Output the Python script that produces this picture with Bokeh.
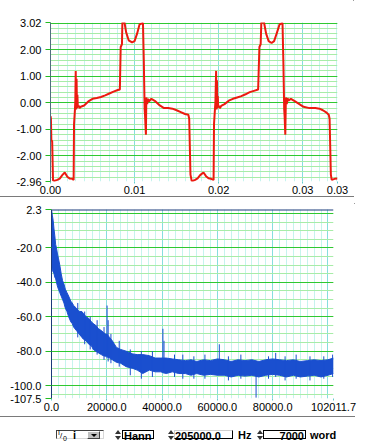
import numpy as np
from bokeh.plotting import figure
from bokeh.models import Range1d, FixedTicker, PrintfTickFormatter, Span, Div
from bokeh.layouts import column
from bokeh.embed import file_html
from bokeh.resources import INLINE

# ---------------- data ----------------
# time-domain waveform (s, value)
wave_t = [0.00000, 0.00005, 0.00010, 0.00020, 0.00030, 0.00045, 0.00080, 0.00110, 0.00140, 0.00170,
          0.00200, 0.00230, 0.00260, 0.00275, 0.00280, 0.00290, 0.00295, 0.00300, 0.00305, 0.00310,
          0.00315, 0.00320, 0.00325, 0.00335, 0.00345, 0.00360, 0.00400, 0.00450, 0.00500, 0.00550,
          0.00600, 0.00650, 0.00700, 0.00750, 0.00800, 0.00825, 0.00835, 0.00850, 0.00855, 0.00880,
          0.00900, 0.00930, 0.00970, 0.01000, 0.01030, 0.01060, 0.01100, 0.01110, 0.01120, 0.01125,
          0.01135, 0.01140, 0.01150, 0.01160, 0.01170, 0.01200, 0.01250, 0.01300, 0.01350, 0.01400,
          0.01450, 0.01500, 0.01550, 0.01600, 0.01640, 0.01650, 0.01665, 0.01680,
          0.01695, 0.01720, 0.01750, 0.01780, 0.01820, 0.01850, 0.01880, 0.01910, 0.01940, 0.01945,
          0.01955, 0.01962, 0.01970, 0.01975, 0.01980, 0.01985, 0.01990, 0.01995, 0.02005, 0.02015,
          0.02030, 0.02070, 0.02120, 0.02170, 0.02220, 0.02270, 0.02320, 0.02370, 0.02420, 0.02470,
          0.02485, 0.02500, 0.02508, 0.02540, 0.02565, 0.02595, 0.02630, 0.02660, 0.02690, 0.02725,
          0.02760, 0.02770, 0.02780, 0.02785, 0.02793, 0.02800, 0.02810, 0.02820, 0.02830, 0.02860,
          0.02910, 0.02960, 0.03010, 0.03080, 0.03150, 0.03200, 0.03240, 0.03275, 0.03310, 0.03320,
          0.03335, 0.03345, 0.03380, 0.03414]
wave_v = [-0.50, -0.60, -1.40, -1.45, -2.92, -2.94, -2.90, -2.85, -2.72, -2.62,
          -2.78, -2.85, -2.86, -2.90, -0.80, -0.30, 0.05, 1.20, -0.25, 0.90,
          -0.20, 0.30, -0.15, -0.10, -0.20, -0.15, -0.10, 0.05, 0.15, 0.18,
          0.22, 0.28, 0.35, 0.42, 0.48, 0.50, 2.10, 2.20, 3.02, 3.02,
          2.65, 2.35, 2.27, 2.32, 2.60, 2.95, 3.00, 1.55, -0.25, -0.50,
          -1.20, 0.20, -0.05, 0.15, 0.05, 0.15, 0.05, -0.10, -0.20, -0.20,
          -0.22, -0.28, -0.35, -0.42, -0.45, -0.60, -2.70, -2.94,
          -2.94, -2.90, -2.84, -2.72, -2.62, -2.76, -2.84, -2.86, -2.90, -0.80,
          -0.30, 0.05, 1.20, -0.25, 0.85, -0.20, 0.25, -0.15, -0.12, -0.20,
          -0.12, -0.05, 0.08, 0.15, 0.20, 0.25, 0.32, 0.40, 0.45, 0.50,
          2.10, 2.20, 3.02, 3.02, 2.60, 2.32, 2.25, 2.32, 2.60, 2.95,
          3.00, 1.55, -0.25, -0.50, -1.20, 0.20, -0.05, 0.18, 0.08, 0.15,
          0.05, -0.05, -0.15, -0.20, -0.20, -0.22, -0.28, -0.35, -0.45, -0.60,
          -2.70, -2.90, -2.86, -2.85]

# spectrum band (Hz, dB upper / lower)
spec_f = [0, 300, 600, 900, 1200, 1500, 1800, 2100, 2500, 3000,
          3500, 4000, 4500, 5000, 5600, 6200, 7000, 7500, 8000, 9000,
          10000, 11000, 11500, 12500, 13500, 14500, 15100, 16000, 17000, 18000,
          18700, 19500, 20000, 21000, 22000, 23500, 25000, 27000, 29400, 31000,
          33000, 35400, 37500, 39500, 41500, 43700, 46000, 48400, 50500, 52500,
          55000, 57500, 60000, 62500, 65000, 67500, 70000, 72500, 75000, 77500,
          80000, 82500, 85000, 87500, 90000, 92500, 95000, 97500, 100000, 102011.7]
spec_hi = [2.3, -1, -4, -9, -13, -18, -20, -23, -26, -30,
           -35, -39, -41, -44, -46, -48, -51, -52, -53.5, -55,
           -57, -57, -58, -60, -61, -63, -64, -65, -67, -68,
           -69, -70, -70, -72, -74, -77.8, -79, -80, -81.6, -82,
           -82, -82.6, -84, -84, -84, -84.5, -85, -85.5, -85, -86,
           -85, -85.5, -84.5, -85, -86, -85, -85.5, -85, -86, -85,
           -84.5, -85, -85.5, -85, -86, -85.5, -85, -85.5, -85, -84]
spec_lo = [-30, -33, -34, -35, -37, -38, -40, -42, -44, -46,
           -48, -50, -52, -55, -57, -60, -63, -64, -66, -68,
           -70, -72, -73, -74, -76, -77, -79, -80, -81, -82,
           -82.6, -83, -83, -84, -85, -86.5, -87, -89, -90, -91,
           -93, -91, -92, -92, -93, -92, -93, -93, -94, -93,
           -94, -93.5, -94, -94, -95, -94, -94.5, -94, -95, -94,
           -93.5, -94, -95, -94, -95, -94.5, -94, -95, -94, -93]

# narrow spectral spikes (Hz, dB low, dB high)
spike_f = [9500, 12000, 14000, 16500, 19000, 20100, 20500, 21500, 24500, 28500,
           32500, 36500, 40300, 40700, 44500, 47500, 51500, 55500, 60700, 64000,
           68500, 74000, 78500, 81100, 84500, 88500, 93500, 98500, 101700]
spike_lo = [-72, -76, -79, -82, -85, -84, -86, -87, -89, -94,
            -96, -95, -90, -93, -95, -96, -96, -96, -93, -97,
            -96, -107, -96, -95, -97, -96, -97, -96, -95]
spike_hi = [-52, -57, -60, -62, -66, -53.5, -62, -70, -74, -79,
            -80, -80, -67, -74, -82, -82, -83, -82, -76, -83,
            -82, -90, -83, -81, -83, -82, -83, -83, -82]

top_xticks = [0.0, 0.01, 0.02, 0.03, 0.03414]
top_yticks = [-2.96, -2.0, -1.0, 0.0, 1.0, 2.0, 3.02]
bot_xticks = [0.0, 20000.0, 40000.0, 60000.0, 80000.0, 102011.7]
bot_yticks = [-107.5, -100.0, -80.0, -60.0, -40.0, -20.0, 2.3]

# ---------------- styling helpers ----------------
FONT = "Liberation Sans"
MAJ_H = "#30c830"
MIN_H = "#a8eca8"
MAJ_V = "#86dede"
MIN_V = "#c6f4ee"
LEFT1 = 62   # reserved left borders (cover the axes); figures are shifted left by margin
LEFT2 = 66


def style(p, yfmt, xfmt, xt, yt, ylen):
    p.outline_line_color = None
    p.background_fill_color = "white"
    p.border_fill_color = "white"
    for ax in (p.xaxis[0], p.yaxis[0]):
        ax.major_label_text_font = FONT
        ax.major_label_text_font_size = "11px"
        ax.major_label_text_color = "black"
        ax.minor_tick_out = 0
        ax.minor_tick_in = 0
        ax.major_tick_in = 0
    p.xaxis[0].ticker = FixedTicker(ticks=xt)
    p.yaxis[0].ticker = FixedTicker(ticks=yt)
    p.xaxis[0].formatter = PrintfTickFormatter(format=xfmt)
    p.yaxis[0].formatter = PrintfTickFormatter(format=yfmt)
    p.xaxis[0].axis_line_color = None
    p.xaxis[0].major_tick_out = 2
    p.xaxis[0].major_tick_line_color = "#66cccc"
    p.xaxis[0].major_label_standoff = 2
    p.yaxis[0].major_tick_out = ylen
    p.yaxis[0].major_tick_line_color = "#22bb22"
    p.yaxis[0].major_label_standoff = 4


# ---------------- top: waveform ----------------
p1 = figure(frame_width=292, frame_height=158, x_range=Range1d(0, 0.03414), y_range=Range1d(-2.96, 3.02),
            output_backend="svg", toolbar_location=None,
            min_border_left=LEFT1, min_border_right=21, min_border_top=22, min_border_bottom=16)
style(p1, "%.2f", "%.2f", top_xticks, top_yticks, 5)
p1.xgrid.ticker = FixedTicker(ticks=[0.0, 0.01, 0.02, 0.03],
                              minor_ticks=list(np.round(np.arange(0.0, 0.0342, 0.001), 4)))
p1.ygrid.ticker = FixedTicker(ticks=[-2.0, -1.0, 0.0, 1.0, 2.0, 3.0],
                              minor_ticks=list(np.round(np.arange(-2.8, 3.01, 0.2), 2)))
p1.xgrid.grid_line_color = MAJ_V
p1.xgrid.minor_grid_line_color = MIN_V
p1.ygrid.grid_line_color = MAJ_H
p1.ygrid.minor_grid_line_color = MIN_H
p1.yaxis[0].axis_line_color = "#4f6f80"
p1.line(wave_t, wave_v, line_color="#ec1a10", line_width=2)
p1.styles = {"border-right": "1px solid #7a7a7a", "border-bottom": "1px solid #7a7a7a"}
p1.margin = (0, 0, 0, 46 - LEFT1)

# ---------------- bottom: spectrum ----------------
p2 = figure(frame_width=286, frame_height=188, x_range=Range1d(0, 102011.7), y_range=Range1d(-107.5, 2.3),
            output_backend="svg", toolbar_location=None,
            min_border_left=LEFT2, min_border_right=22, min_border_top=6, min_border_bottom=19)
style(p2, "%.1f", "%.1f", bot_xticks, bot_yticks, 6)
p2.xgrid.ticker = FixedTicker(ticks=[0, 20000, 40000, 60000, 80000, 100000],
                              minor_ticks=list(np.arange(0, 102012, 2500)))
p2.ygrid.ticker = FixedTicker(ticks=[0, -20, -40, -60, -80, -100],
                              minor_ticks=list(np.arange(-105, 1, 5)))
p2.xgrid.grid_line_color = MAJ_V
p2.xgrid.minor_grid_line_color = MIN_V
p2.ygrid.grid_line_color = MAJ_H
p2.ygrid.minor_grid_line_color = MIN_H
p2.yaxis[0].axis_line_color = "#1a3a7a"
p2.add_layout(Span(location=2.3, dimension="width", line_color="#1a3a7a", line_width=2))
BLUE = "#1a4fcf"
p2.varea(x=spec_f, y1=spec_lo, y2=spec_hi, fill_color=BLUE)
p2.line(spec_f, spec_hi, line_color=BLUE, line_width=1)
p2.line(spec_f, spec_lo, line_color=BLUE, line_width=1)
p2.segment(x0=spike_f, y0=spike_lo, x1=spike_f, y1=spike_hi, line_color=BLUE, line_width=1)
p2.styles = {"border-right": "1px solid #7a7a7a", "border-bottom": "1px solid #7a7a7a"}
p2.margin = (6, 0, 0, 51 - LEFT2)

# ---------------- control strip ----------------
def arrows(x):
    return (f'<div style="position:absolute;left:{x}px;top:8px;width:0;height:0;'
            f'border-left:3px solid transparent;border-right:3px solid transparent;border-bottom:4px solid #333"></div>'
            f'<div style="position:absolute;left:{x}px;top:14px;width:0;height:0;'
            f'border-left:3px solid transparent;border-right:3px solid transparent;border-top:4px solid #333"></div>')

html = (
    '<div style="position:relative;width:360px;height:20px;'
    "font:bold 11px 'Liberation Sans',Arial,sans-serif;color:#000;line-height:11px\">"
    '<div style="position:absolute;left:51px;top:8px;width:48px;height:9px;'
    'border:1px solid;border-color:#404040 #d8d8d8 #d8d8d8 #404040;background:#fff"></div>'
    "<div style=\"position:absolute;left:53px;top:7px;font:7px 'Liberation Sans';line-height:7px\">I</div>"
    "<div style=\"position:absolute;left:55px;top:10px;font:8px 'Liberation Sans';line-height:8px\">/</div>"
    "<div style=\"position:absolute;left:58px;top:13px;font:7px 'Liberation Sans';line-height:7px\">0</div>"
    '<div style="position:absolute;left:68px;top:8px">i</div>'
    '<div style="position:absolute;left:82px;top:9px;width:13px;height:8px;background:#c0c0c0;'
    'border:1px solid;border-color:#fff #404040 #404040 #fff"></div>'
    '<div style="position:absolute;left:86px;top:12px;width:0;height:0;border-left:3px solid transparent;'
    'border-right:3px solid transparent;border-top:3px solid #000"></div>'
    + arrows(110) +
    '<div style="position:absolute;left:117px;top:8px;width:32px;height:9px;border:1px solid #000;'
    'padding-left:1px">Hann</div>'
    + arrows(163) +
    '<div style="position:absolute;left:169px;top:8px;width:59px;height:9px;border:1px solid;'
    'border-color:#d0d0d0 #000 #000 #d0d0d0">205000.0</div>'
    '<div style="position:absolute;left:233px;top:8px">Hz</div>'
    + arrows(252) +
    '<div style="position:absolute;left:258px;top:8px;width:43px;height:9px;border:1px solid #000;'
    'text-align:right;padding-right:1px">7000</div>'
    '<div style="position:absolute;left:305px;top:8px">word</div>'
    '</div>'
)
ctrl = Div(text=html, width=360, height=20)

layout = column(p1, p2, ctrl, spacing=0)
open("out.html", "w").write(file_html(layout, INLINE))
